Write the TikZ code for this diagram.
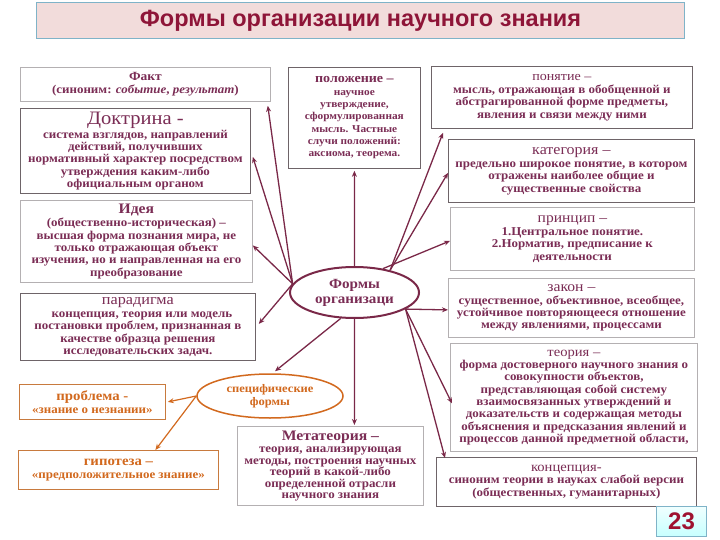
\documentclass[tikz,border=0pt]{standalone}
\usepackage{fontspec}
\setmainfont[FakeStretch=1.08]{Liberation Serif}
\newfontfamily\titlefont{Liberation Sans}
\usetikzlibrary{shapes.geometric,arrows.meta,calc}
\definecolor{txt}{HTML}{7B2D55}
\definecolor{lnc}{HTML}{7A2848}
\definecolor{ttl}{HTML}{8E1538}
\definecolor{tfill}{HTML}{F2DCDB}
\definecolor{tbord}{HTML}{7FB3C8}
\definecolor{bdark}{HTML}{6E6468}
\definecolor{blight}{HTML}{B4B0B2}
\definecolor{orn}{HTML}{D2691E}
\definecolor{ornb}{HTML}{C87A3E}
\newcommand{\hd}[2]{{\fontsize{#1}{#1}\selectfont\mdseries #2}}
\newcommand{\hdb}[2]{{\fontsize{#1}{#1}\selectfont\bfseries #2}}
\begin{document}
\begin{tikzpicture}[x=1pt,y=-1pt,
  box/.style={draw=blight, line width=0.8pt, fill=white, anchor=north west, align=center,
    inner sep=1pt, text=txt, font=\fontsize{12}{12.3}\selectfont\bfseries},
  dbox/.style={box, draw=bdark},
  obox/.style={box, draw=ornb, text=orn},
  arr/.style={draw=lnc, line width=1.3pt, -{Stealth[length=6pt,width=5pt]}},
  oarr/.style={draw=orn, line width=1.2pt, -{Stealth[length=6pt,width=5pt]}}
]
\useasboundingbox (0,0) rectangle (720,540);
% title
\node[draw=tbord, fill=tfill, line width=1pt, anchor=north west, minimum width=648pt, minimum height=36pt,
  text=ttl, font=\titlefont\fontsize{23.5}{26}\selectfont\bfseries] (title) at (36,2) {Формы организации научного знания};
% left boxes
\node[box, minimum width=250pt, minimum height=34pt] (fakt) at (20,67)
  {\hdb{12.5}{Факт}\\[1pt](синоним: \textit{событие}, \textit{результат})};
\node[dbox, minimum width=230pt, minimum height=85pt] (doc) at (20,108)
  {\hd{19}{Доктрина -}\\[1pt]система взглядов, направлений\\действий, получивших\\нормативный характер посредством\\утверждения каким-либо\\официальным органом};
\node[box, minimum width=232pt, minimum height=82pt] (idea) at (20,200)
  {\hdb{14.5}{Идея}\\[1pt](общественно-историческая) –\\высшая форма познания мира, не\\только отражающая объект\\изучения, но и направленная на его\\преобразование};
\node[dbox, minimum width=235pt, minimum height=67pt] (para) at (20,293)
  {\hd{15}{парадигма}\\[1pt]\hspace*{8pt}концепция, теория или модель\\постановки проблем, признанная в\\качестве образца решения\\исследовательских задач.};
% top middle
\node[dbox, minimum width=132pt, minimum height=101pt, font=\fontsize{10.5}{12.3}\selectfont\bfseries] (pos) at (288,67)
  {\hdb{13}{положение –}\\научное\\утверждение,\\сформулированная\\мысль. Частные\\случи положений:\\аксиома, теорема.};
% right boxes
\node[dbox, minimum width=261pt, minimum height=62pt] (pon) at (431,66)
  {\hd{13}{понятие –}\\[1pt]мысль, отражающая в обобщенной и\\абстрагированной форме предметы,\\явления и связи между ними};
\node[dbox, minimum width=246pt, minimum height=63pt] (kat) at (448,139)
  {\hd{14.8}{категория –}\\[1pt]предельно широкое понятие, в котором\\отражены наиболее общие и\\существенные свойства};
\node[box, minimum width=244pt, minimum height=63pt] (prin) at (450,207)
  {\hd{14.4}{принцип –}\\[1pt]1.Центральное понятие.\\2.Норматив, предписание к\\деятельности};
\node[box, minimum width=246pt, minimum height=59pt] (zak) at (448,278)
  {\hd{14.5}{закон –}\\[1pt]существенное, объективное, всеобщее,\\устойчивое повторяющееся отношение\\между явлениями, процессами};
\node[box, minimum width=247pt, minimum height=108pt] (teor) at (450,343)
  {\hd{13.5}{теория –}\\форма достоверного научного знания о\\совокупности объектов,\\представляющая собой систему\\взаимосвязанных утверждений и\\доказательств и содержащая методы\\объяснения и предсказания явлений и\\процессов данной предметной области,};
\node[dbox, minimum width=260pt, minimum height=49pt] (konc) at (436,457)
  {\hd{13.5}{концепция-}\\синоним теории в науках слабой версии\\(общественных, гуманитарных)};
% bottom middle
\node[box, minimum width=186pt, minimum height=79pt, font=\fontsize{12}{11.5}\selectfont\bfseries] (meta) at (237,426)
  {\hdb{14.5}{Метатеория –}\\[1pt]теория, анализирующая\\методы, построения научных\\теорий в какой-либо\\определенной отрасли\\научного знания};
% orange boxes
\node[obox, minimum width=146pt, minimum height=35pt] (prob) at (19,384)
  {\hdb{13.7}{проблема -}\\[1pt]«знание о незнании»};
\node[obox, minimum width=200pt, minimum height=39pt] (gip) at (18,450)
  {\hdb{13.7}{гипотеза –}\\[1pt]«предположительное знание»};
% ellipses
\node[ellipse, draw=lnc, line width=2pt, fill=white, minimum width=129pt, minimum height=51pt, inner sep=0pt,
  align=center, text=txt, font=\fontsize{14}{15}\selectfont\bfseries] (c) at (354.5,292.5) {Формы\\организаци};
\node[ellipse, draw=orn, line width=1.5pt, fill=white, minimum width=146pt, minimum height=44pt, inner sep=0pt,
  align=center, text=orn, font=\fontsize{11.6}{13}\selectfont\bfseries] (spec) at (270,396) {специфические\\формы};
% page number
\node[draw=tbord, line width=1pt, top color=cyan!6, bottom color=cyan!22, anchor=north west,
  minimum width=50pt, minimum height=30pt, text=ttl!85!red, font=\titlefont\fontsize{24}{26}\selectfont\bfseries] (pg) at (656,506) {23};
% hubs
\coordinate (L) at (c.172);
\coordinate (R) at (c.32);
\coordinate (RL) at (c.-18);
% connectors
\draw[arr] (L) -- ([xshift=-3pt,yshift=-4pt]fakt.south east);
\draw[arr] (L) -- ([xshift=2pt,yshift=-6pt]doc.east);
\draw[arr] (L) -- ([xshift=0pt,yshift=-4pt]idea.east);
\draw[arr] (L) -- ([xshift=3pt,yshift=3pt]para.east);
\draw[arr] (c.north) -- ([yshift=-2pt]pos.south);
\draw[arr] (R) -- ([xshift=12pt,yshift=-4pt]pon.south west);
\draw[arr] (R) -- ([yshift=-2pt]kat.west);
\draw[arr] (c.40) -- ([yshift=-2pt]prin.west);
\draw[arr] (RL) -- ([yshift=-2pt]zak.west);
\draw[arr] (RL) -- ([xshift=2pt,yshift=-6pt]teor.west);
\draw[arr] (RL) -- ([xshift=9pt,yshift=-1pt]konc.north west);
\draw[arr] (c.south) -- ([xshift=24pt,yshift=1pt]meta.north);
\draw[arr] (c.-118) -- ([xshift=5pt,yshift=2pt]spec.north);
\draw[oarr] (spec.west) -- ([xshift=2pt]prob.east);
\draw[oarr] (spec.west) -- ([xshift=37pt]gip.north);
\end{tikzpicture}
\end{document}
